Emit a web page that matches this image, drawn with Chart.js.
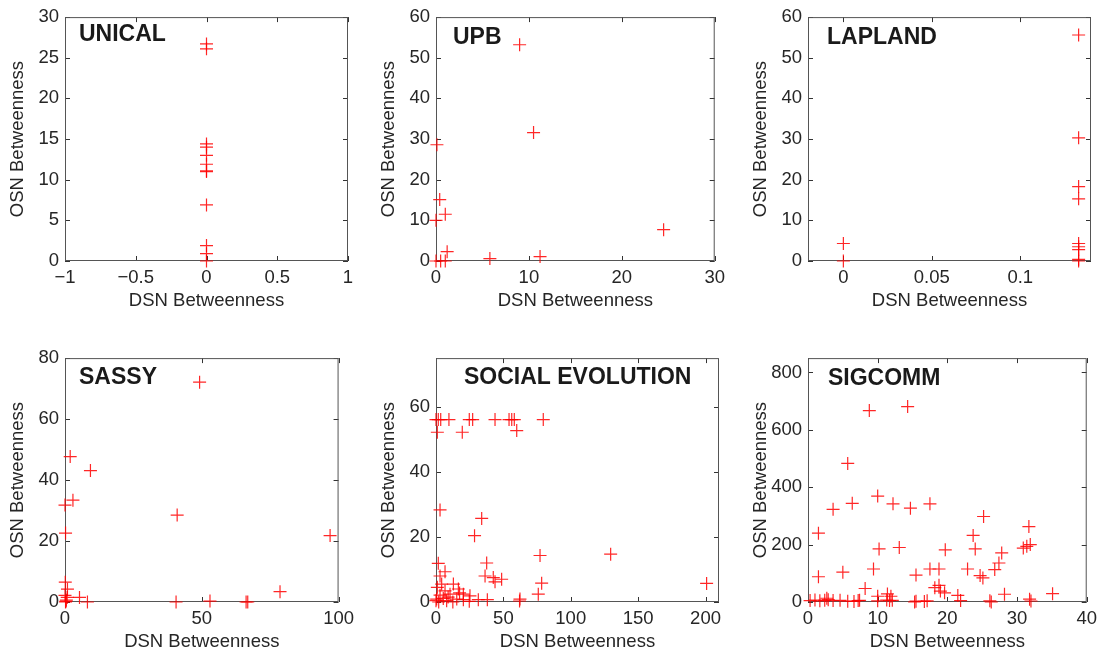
<!DOCTYPE html>
<html>
<head>
<meta charset="utf-8">
<title>DSN vs OSN Betweenness</title>
<script src="https://cdn.jsdelivr.net/npm/chart.js@4/dist/chart.umd.min.js"></script>
<style>
	html, body { margin: 0; padding: 0; background: #fff; }
	body { width: 1106px; height: 657px; position: relative; overflow: hidden; }
	.panel { position: absolute; width: 360px; height: 320px; }
</style>
</head>
<body>
<div class="panel" style="left:0px;top:0px;"><canvas id="chUnical" width="360" height="320"></canvas></div>
<div class="panel" style="left:371px;top:0px;"><canvas id="chUpb" width="360" height="320"></canvas></div>
<div class="panel" style="left:743px;top:0px;"><canvas id="chLapland" width="360" height="320"></canvas></div>
<div class="panel" style="left:0px;top:341px;"><canvas id="chSassy" width="360" height="320"></canvas></div>
<div class="panel" style="left:371px;top:341px;"><canvas id="chSocial" width="360" height="320"></canvas></div>
<div class="panel" style="left:743px;top:341px;"><canvas id="chSigcomm" width="360" height="320"></canvas></div>
<script>
// UNICAL
var unicalDsn = [0, 0, 0, 0, 0, 0, 0, 0, 0, 0, 0, 0];
var unicalOsn = [26.7, 26.1, 14.4, 14.0, 13.0, 11.9, 11.1, 11.0, 6.9, 1.9, 0.9, 0];
var unicalXRange = [-1, 1];
var unicalYRange = [0, 30];
var unicalXTicks = [-1, -0.5, 0, 0.5, 1];
var unicalYTicks = [0, 5, 10, 15, 20, 25, 30];

// UPB
var upbDsn = [9.0, 10.5, 0.1, 0.4, 1.0, 0, 1.2, 5.8, 11.2, 24.5, 0, 0.5, 1.0];
var upbOsn = [53.2, 31.6, 28.6, 15.1, 11.5, 10.0, 2.3, 0.6, 1.1, 7.7, 0, 0, 0];
var upbXRange = [0, 30];
var upbYRange = [0, 60];
var upbXTicks = [0, 10, 20, 30];
var upbYTicks = [0, 10, 20, 30, 40, 50, 60];

// LAPLAND
var laplandDsn = [0, 0, 0.133, 0.133, 0.133, 0.133, 0.133, 0.133, 0.133, 0.133, 0.133];
var laplandOsn = [4.3, 0, 55.6, 30.3, 18.3, 15.3, 4.3, 3.5, 2.8, 0.4, 0];
var laplandXRange = [-0.02, 0.14];
var laplandYRange = [0, 60];
var laplandXTicks = [0, 0.05, 0.1];
var laplandYTicks = [0, 10, 20, 30, 40, 50, 60];

// SASSY
var sassyDsn = [49.2, 1.9, 9.3, 2.9, 0, 41.0, 0.2, 96.9, 78.6, 0.1, 0.9, 0, 0.8, 5.3, 8.2, 0.2, 0.5, 40.6, 53.0, 66.2, 66.8, 0.3];
var sassyOsn = [72.1, 47.7, 43.1, 33.4, 31.8, 28.5, 22.6, 21.8, 3.4, 6.5, 4.2, 2.2, 1.5, 1.5, 0, 0, 0.6, 0, 0.3, 0, 0, 0.2];
var sassyXRange = [0, 100];
var sassyYRange = [0, 80];
var sassyXTicks = [0, 50, 100];
var sassyYTicks = [0, 20, 40, 60, 80];

// SOCIAL EVOLUTION
var socialDsn = [0, 1.7, 3.5, 9.6, 24.7, 27.2, 43.8, 54.2, 56.2, 58.1, 79.6,
	1.0, 19.5, 59.9,
	3.0, 33.9, 28.6, 37.6, 77.2, 129.6, 200.8, 78.4, 75.9, 1.7, 6.7, 36.4, 42.5, 48.7, 43.8,
	3.0, 4.2, 12.9, 16.6, 6.7, 20.3, 10.4, 25.2, 3.0, 0.5, 5.4, 15.4, 20.3, 31.4, 38.1,
	62.3, 62.0, 0, 7.9, 12.5, 24.7, 2.0, 9.0, 17.5, 1.0];
var socialOsn = [56.1, 56.1, 56.1, 56.1, 56.1, 56.1, 56.1, 56.1, 56.1, 56.1, 56.1,
	52.2, 52.2, 52.7,
	28.3, 25.7, 20.4, 12.0, 14.3, 14.7, 5.7, 5.8, 2.4, 11.9, 9.3, 8.0, 7.5, 7.0, 6.2,
	8.0, 5.5, 5.5, 4.0, 3.4, 2.4, 2.4, 1.9, 2.1, 0.9, 1.1, 0.9, 0.7, 0.7, 0.7,
	0.9, 0.3, 0.4, 0.4, 0, 0.2, 0, 1.5, 2.8, 4.5];
var socialXRange = [0, 210];
var socialYRange = [0, 75];
var socialXTicks = [0, 50, 100, 150, 200];
var socialYTicks = [0, 20, 40, 60];

// SIGCOMM
var sigcommDsn = [8.8, 14.3, 5.7, 10.0, 6.35, 3.6, 12.2, 14.7, 17.5, 25.2, 31.7, 30.9, 31.4, 31.9,
	1.5, 23.7, 24.0, 10.2, 13.1, 19.7, 27.8, 27.4, 26.8, 22.9, 17.5, 18.8, 9.4, 5.0, 1.5, 15.5,
	24.7, 25.1, 18.8, 18.2, 8.2, 19.0, 19.6, 28.2, 35.1, 21.5, 26.3, 32.0,
	0.3, 1.0, 1.7, 2.4, 2.9, 3.6, 4.6, 5.7, 7.2, 7.4, 10.0, 11.3, 11.7, 12.1, 15.5, 16.7, 17.1,
	2.7, 10.0, 11.4, 11.9, 21.9, 26.1, 31.8, 15.3, 6.6];
var sigcommOsn = [667, 681, 483, 369, 344, 323, 342, 327, 342, 298, 263, 188, 194, 200,
	240, 232, 185, 185, 190, 182, 171, 136, 113, 115, 115, 115, 115, 104, 88, 94,
	92, 84, 58, 50, 47, 38, 32, 27, 29, 23, 0, 3.5,
	5, 7, 4, 6, 8, 5, 6, 3, 5, 6, 4, 7, 5, 6, 3, 2, 4,
	13, 20, 28, 20, 5, 4, 10, 0, 2];
var sigcommXRange = [0, 40];
var sigcommYRange = [0, 850];
var sigcommXTicks = [0, 10, 20, 30, 40];
var sigcommYTicks = [0, 200, 400, 600, 800];

var FONT = "\"Liberation Sans\", Arial, Helvetica, sans-serif";
var TEXT_COLOR = "#262626";

// matlab-ish axes: box, inward ticks on all four sides, bold panel name
var matlabAxes = {
	id: "matlabAxes",
	beforeDatasetsDraw: function(chart, args, opts){
		var ctx = chart.ctx;
		var a = chart.chartArea;
		var xs = chart.scales.x;
		var ys = chart.scales.y;

		ctx.save();
		ctx.strokeStyle = "#333";
		ctx.lineWidth = 1;
		ctx.beginPath();
		xs.ticks.forEach(function(t){
			var px = Math.round(xs.getPixelForValue(t.value)) + 0.5;
			ctx.moveTo(px, a.bottom); ctx.lineTo(px, a.bottom - 5);
			ctx.moveTo(px, a.top); ctx.lineTo(px, a.top + 5);
		});
		ys.ticks.forEach(function(t){
			var py = Math.round(ys.getPixelForValue(t.value)) + 0.5;
			ctx.moveTo(a.left, py); ctx.lineTo(a.left + 5, py);
			ctx.moveTo(a.right, py); ctx.lineTo(a.right - 5, py);
		});
		ctx.stroke();

		ctx.strokeStyle = "#555";
		ctx.strokeRect(a.left + 0.5, a.top + 0.5, a.width - 1, a.height - 1);

		ctx.fillStyle = "#1a1a1a";
		ctx.font = "bold 23px " + FONT;
		ctx.textAlign = "left";
		ctx.textBaseline = "middle";
		ctx.fillText(opts.name, a.left + opts.dx, a.top + opts.dy);
		ctx.restore();
	}
};

function fmtTick(v){
	return String(v).replace("-", "\u2212");
}

function makeScale(range, ticks, title, isX){
	return {
		type: "linear",
		min: range[0],
		max: range[1],
		afterBuildTicks: function(scale){
			scale.ticks = ticks.map(function(v){ return {value: v}; });
		},
		afterFit: function(scale){
			if(isX) scale.height = 59;
			else scale.width = 65;
		},
		grid: {display: false, drawTicks: false},
		border: {display: false},
		ticks: {
			padding: 6,
			color: TEXT_COLOR,
			autoSkip: false,
			maxRotation: 0,
			font: {family: FONT, size: 18.5},
			callback: function(v){ return fmtTick(v); }
		},
		title: {
			display: true,
			text: title,
			color: TEXT_COLOR,
			font: {family: FONT, size: 18.5, lineHeight: 1.2},
			padding: isX ? {top: 0, bottom: 8} : {top: 7, bottom: 0}
		}
	};
}

function drawPanel(p){
	var pts = p.dsn.map(function(x, i){ return {x: x, y: p.osn[i]}; });

	new Chart(document.getElementById(p.canvas), {
		type: "scatter",
		data: {
			datasets: [{
				data: pts,
				pointStyle: "cross",
				pointRadius: 6.5,
				pointHoverRadius: 6.5,
				pointBorderWidth: 1.2,
				borderColor: "rgba(255,0,0,0.85)",
				backgroundColor: "rgba(255,0,0,0.85)",
				clip: false
			}]
		},
		options: {
			responsive: false,
			animation: false,
			events: [],
			layout: {padding: {left: 0, top: 16, right: 12, bottom: 0}},
			scales: {
				x: makeScale(p.xRange, p.xTicks, "DSN Betweenness", true),
				y: makeScale(p.yRange, p.yTicks, "OSN Betweenness", false)
			},
			plugins: {
				legend: {display: false},
				tooltip: {enabled: false},
				matlabAxes: {name: p.name, dx: p.dx, dy: p.dy}
			}
		},
		plugins: [matlabAxes]
	});
}

var panels = [
	{canvas: "chUnical", name: "UNICAL", dsn: unicalDsn, osn: unicalOsn, xRange: unicalXRange, yRange: unicalYRange, xTicks: unicalXTicks, yTicks: unicalYTicks, dx: 14, dy: 18},
	{canvas: "chUpb", name: "UPB", dsn: upbDsn, osn: upbOsn, xRange: upbXRange, yRange: upbYRange, xTicks: upbXTicks, yTicks: upbYTicks, dx: 17, dy: 21},
	{canvas: "chLapland", name: "LAPLAND", dsn: laplandDsn, osn: laplandOsn, xRange: laplandXRange, yRange: laplandYRange, xTicks: laplandXTicks, yTicks: laplandYTicks, dx: 19, dy: 21},
	{canvas: "chSassy", name: "SASSY", dsn: sassyDsn, osn: sassyOsn, xRange: sassyXRange, yRange: sassyYRange, xTicks: sassyXTicks, yTicks: sassyYTicks, dx: 14, dy: 20},
	{canvas: "chSocial", name: "SOCIAL EVOLUTION", dsn: socialDsn, osn: socialOsn, xRange: socialXRange, yRange: socialYRange, xTicks: socialXTicks, yTicks: socialYTicks, dx: 28, dy: 20},
	{canvas: "chSigcomm", name: "SIGCOMM", dsn: sigcommDsn, osn: sigcommOsn, xRange: sigcommXRange, yRange: sigcommYRange, xTicks: sigcommXTicks, yTicks: sigcommYTicks, dx: 20, dy: 21}
];

panels.forEach(drawPanel);
</script>
</body>
</html>
